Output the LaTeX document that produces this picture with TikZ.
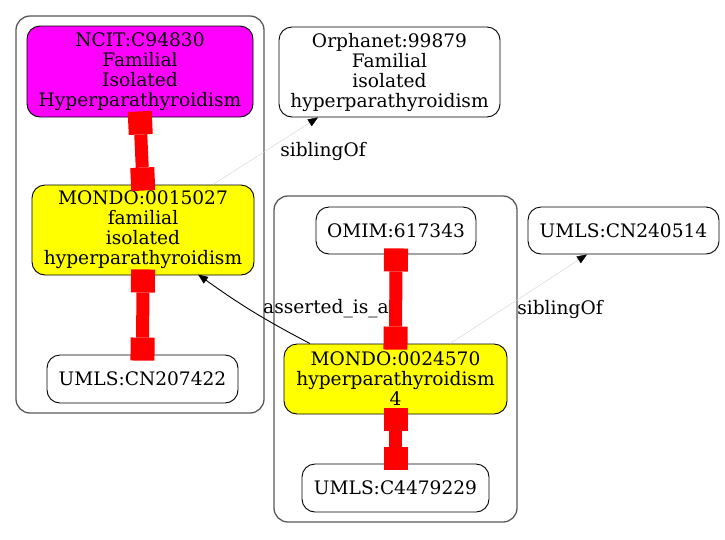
\documentclass[tikz,border=0pt]{standalone}
\usepackage{fontspec}
\setmainfont{DejaVu Serif}
\usetikzlibrary{arrows.meta}
\definecolor{gvmagenta}{RGB}{255,0,255}
\definecolor{gvyellow}{RGB}{255,255,0}
\definecolor{gvred}{RGB}{255,0,0}
\newcommand\gvfont{\fontsize{18.6}{20}\selectfont}
\begin{document}
\begin{tikzpicture}[x=1pt,y=-1pt,
  gvbox/.style={draw=black, line width=0.9pt, rounded corners=13pt, align=center, inner sep=0pt, font=\gvfont},
  cluster/.style={draw=black!65, line width=1.3pt, rounded corners=14pt},
  rededge/.style={draw=gvred, line width=13pt,
     {Square[length=23pt,width=24pt,line width=0pt]}-{Square[length=23pt,width=24pt,line width=0pt]},
     shorten <=-6pt, shorten >=-6pt},
  sibedge/.style={draw=black!18, line width=0.4pt, -{Triangle[length=10pt,width=8pt,fill=black,color=black]}},
  isaedge/.style={draw=black, line width=0.9pt, -{Triangle[length=10pt,width=8pt]}},
  elabel/.style={font=\gvfont, inner sep=0pt}
]
\useasboundingbox (0,0) rectangle (725,539);
% clusters
\draw[cluster] (16,16) rectangle (264,413);
\draw[cluster] (274,196) rectangle (517,522);
% nodes
\node[gvbox, fill=gvmagenta, minimum width=226pt, minimum height=91pt] (ncit) at (140,71.5) {NCIT:C94830\\Familial\\Isolated\\Hyperparathyroidism};
\node[gvbox, fill=gvyellow, minimum width=222pt, minimum height=90pt] (m15) at (143,230) {MONDO:0015027\\familial\\isolated\\hyperparathyroidism};
\node[gvbox, fill=white, minimum width=191pt, minimum height=48pt] (cn207) at (142.5,379) {UMLS:CN207422};
\node[gvbox, fill=white, minimum width=221pt, minimum height=90pt] (orph) at (389.5,72) {Orphanet:99879\\Familial\\isolated\\hyperparathyroidism};
\node[gvbox, fill=white, minimum width=160pt, minimum height=47pt] (omim) at (396,230.5) {OMIM:617343};
\node[gvbox, fill=white, minimum width=191pt, minimum height=47pt] (cn240) at (623.5,230.5) {UMLS:CN240514};
\node[gvbox, fill=gvyellow, minimum width=223pt, minimum height=70pt] (m24) at (395.5,379) {MONDO:0024570\\hyperparathyroidism\\4};
\node[gvbox, fill=white, minimum width=187pt, minimum height=48pt] (c447) at (395.5,488) {UMLS:C4479229};
% red edges
\draw[rededge] (ncit.south) -- (m15.north);
\draw[rededge] (m15.south) -- (cn207.north);
\draw[rededge] (omim.south) -- (m24.north);
\draw[rededge] (m24.south) -- (c447.north);
% sibling edges
\draw[sibedge] ([xshift=70pt]m15.north) -- ([xshift=-71.5pt]orph.south);
\draw[sibedge] ([xshift=54.5pt]m24.north) -- ([xshift=-36.5pt]cn240.south);
% asserted_is_a
\draw[isaedge] ([xshift=-85.5pt]m24.north) to[bend left=4] ([xshift=55pt,yshift=1pt]m15.south);
% labels
\node[elabel] (l1) at (323,151) {siblingOf};
\node[elabel] (l2) at (560,309) {siblingOf};
\node[elabel] (l3) at (326,309) {asserted\_is\_a};
\end{tikzpicture}
\end{document}
